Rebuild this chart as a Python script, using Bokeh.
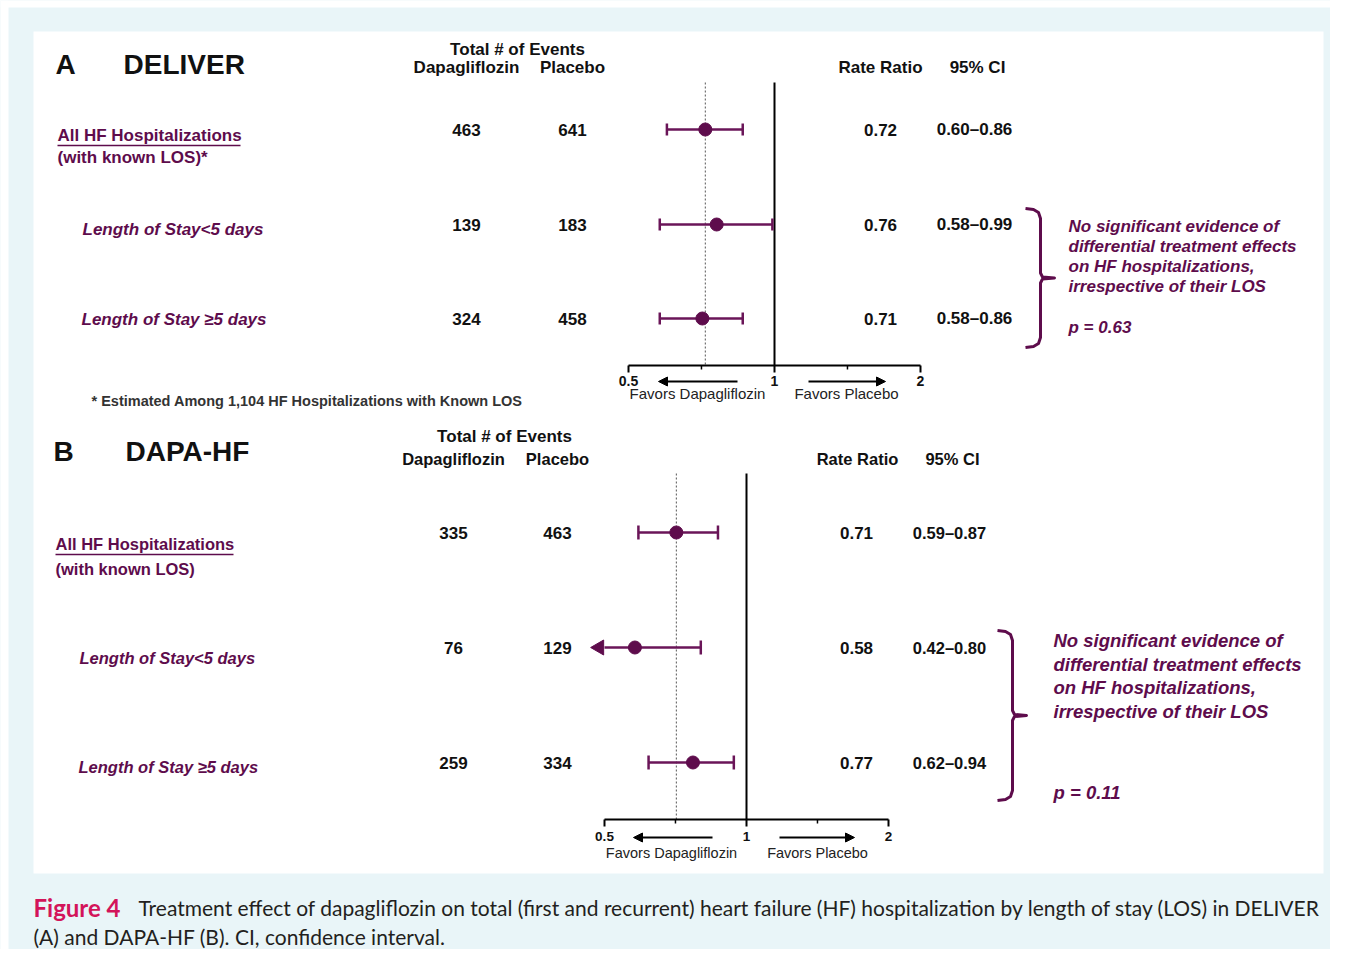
import math
from bokeh.plotting import figure
from bokeh.models import Range1d, LogScale, Arrow, NormalHead
from bokeh.core.properties import value
from bokeh.embed import file_html
from bokeh.resources import INLINE

# ------------------------------------------------------------------ data
panel_letters = ["A", "B"]
trial_names = ["DELIVER", "DAPA-HF"]
subgroups = ["All HF Hospitalizations", "Length of Stay<5 days", "Length of Stay \u22655 days"]
subgroup_notes = ["(with known LOS)*", "(with known LOS)"]

a_dapa = [463, 139, 324]
a_placebo = [641, 183, 458]
a_rr = [0.72, 0.76, 0.71]
a_lo = [0.60, 0.58, 0.58]
a_hi = [0.86, 0.99, 0.86]
a_p = "0.63"

b_dapa = [335, 76, 259]
b_placebo = [463, 129, 334]
b_rr = [0.71, 0.58, 0.77]
b_lo = [0.59, 0.42, 0.62]
b_hi = [0.87, 0.80, 0.94]
b_p = "0.11"

axis_ticks = [0.5, 1, 2]
axis_tick_labels = ["0.5", "1", "2"]
minor_ticks = [0.707, 1.414]

footnote = "* Estimated Among 1,104 HF Hospitalizations with Known LOS"
note_lines = ["No significant evidence of", "differential treatment effects",
              "on HF hospitalizations,", "irrespective of their LOS"]
caption_1 = ("Treatment effect of dapagliflozin on total (first and recurrent) heart failure (HF) "
             "hospitalization by length of stay (LOS) in DELIVER")
caption_2 = "(A) and DAPA-HF (B). CI, confidence interval."

# ------------------------------------------------------------------ styles
PURPLE = "#5e0c4c"
BAR = "#6a1558"
BLACK = "#111111"
BG = "#e9f5f8"
ARIAL = value("Liberation Sans")
CAPF = value("Lato")

W, H = 1330, 949
X0, Y0 = 0, 0  # data coordinates equal screenshot pixels

p = figure(width=W, height=H, x_range=Range1d(X0, X0 + W), y_range=Range1d(Y0 + H, Y0),
           x_axis_type=None, y_axis_type=None, output_backend="svg", toolbar_location=None,
           min_border=0, outline_line_color=None,
           background_fill_color=BG, border_fill_color=BG)


def log_range(px_half, px_two):
    per = (px_two - px_half) / 2.0
    lo = 0.5 * 2 ** ((X0 - px_half) / per)
    hi = 0.5 * 2 ** ((X0 + W - px_half) / per)
    return Range1d(lo, hi)


p.extra_x_ranges = {"fa": log_range(628, 920), "fb": log_range(604, 888)}
p.extra_x_scales = {"fa": LogScale(), "fb": LogScale()}

# page margin strips and white panel
p.quad(left=[0, 0], right=[8, W], top=[0, 0], bottom=[H, 7], fill_color="white", line_color=None)
p.quad(left=[33], right=[1323], top=[31], bottom=[873], fill_color="white", line_color=None)


def txt(x, y, t, font, size, color=BLACK, style="bold", align="left"):
    p.text(x=x, y=y, text=t, text_font=font, text_font_size=size, text_color=color,
           text_font_style=style, text_align=align, text_baseline="middle")


def brace(x, y_top, y_bot, hook=15, notch=14, lw=3):
    ym = (y_top + y_bot) / 2
    xs = [x - hook, x - 7, x - 2, x, x, x + 2, x + notch, x + 2, x, x, x - 2, x - 7, x - hook]
    ys = [y_top, y_top + 1, y_top + 4, y_top + 10, ym - 5, ym - 1, ym, ym + 1, ym + 5,
          y_bot - 10, y_bot - 4, y_bot - 1, y_bot]
    p.line(xs, ys, line_color=PURPLE, line_width=lw, line_join="round")


def forest(rn, rr, lo, hi, ys, top_y, axis_y, cap, msize, tick_size, tick_dy,
           fav_size, fav_dy, fav_x, arrow_l, arrow_r, arrow_y):
    amin, amax = axis_ticks[0], axis_ticks[-1]
    # reference lines
    p.segment(x0=[1], x1=[1], y0=[top_y], y1=[axis_y], x_range_name=rn,
              line_color="black", line_width=2)
    p.segment(x0=[rr[0]], x1=[rr[0]], y0=[top_y], y1=[axis_y], x_range_name=rn,
              line_color="#555555", line_width=1, line_dash="2 2")
    # CI bars
    lo_c = [max(v, amin) for v in lo]
    p.segment(x0=lo_c, x1=hi, y0=ys, y1=ys, x_range_name=rn, line_color=BAR, line_width=2.5)
    cx = [v for v in lo if v >= amin] + list(hi)
    cy = [y for v, y in zip(lo, ys) if v >= amin] + list(ys)
    p.segment(x0=cx, x1=cx, y0=[y - cap for y in cy], y1=[y + cap for y in cy],
              x_range_name=rn, line_color=BAR, line_width=2.5)
    clipped_y = [y for v, y in zip(lo, ys) if v < amin]
    if clipped_y:
        p.scatter(x=[amin * 0.975] * len(clipped_y), y=clipped_y, marker="triangle",
                  angle=math.pi / 2, size=15, fill_color=PURPLE, line_color=PURPLE,
                  x_range_name=rn)
    p.scatter(x=rr, y=ys, marker="circle", size=msize, fill_color=PURPLE, line_color=PURPLE,
              x_range_name=rn)
    # x axis
    p.segment(x0=[amin], x1=[amax], y0=[axis_y], y1=[axis_y], x_range_name=rn,
              line_color="black", line_width=2)
    p.segment(x0=axis_ticks, x1=axis_ticks, y0=[axis_y] * 3, y1=[axis_y + 7] * 3,
              x_range_name=rn, line_color="black", line_width=2)
    p.segment(x0=minor_ticks, x1=minor_ticks, y0=[axis_y] * 2, y1=[axis_y + 4] * 2,
              x_range_name=rn, line_color="black", line_width=1.5)
    p.text(x=axis_ticks, y=[axis_y + tick_dy] * 3, text=axis_tick_labels, x_range_name=rn,
           text_font=ARIAL, text_font_size=tick_size, text_font_style="bold",
           text_align="center", text_baseline="middle", text_color=BLACK)
    txt(fav_x, [axis_y + fav_dy] * 2, ["Favors Dapagliflozin", "Favors Placebo"], ARIAL,
        fav_size, color="#222222", style="normal", align="center")
    for xs_, xe_ in (arrow_l, arrow_r):
        p.add_layout(Arrow(end=NormalHead(size=9, fill_color="black", line_color="black"),
                           x_start=xs_, y_start=arrow_y, x_end=xe_, y_end=arrow_y,
                           line_color="black", line_width=2))


# ------------------------------------------------------------------ panel A
txt([55], [64], [panel_letters[0]], ARIAL, "28px")
txt([123], [64], [trial_names[0]], ARIAL, "28px")
txt([517], [49], ["Total # of Events"], ARIAL, "17px", align="center")
txt([466, 572], [67, 67], ["Dapagliflozin", "Placebo"], ARIAL, "17px", align="center")
txt([880, 977], [67, 67], ["Rate Ratio", "95% CI"], ARIAL, "17px", align="center")

a_rows = [129, 224, 318]
txt([57], [135], [subgroups[0]], ARIAL, "17px", color=PURPLE)
p.segment(x0=[57], x1=[240], y0=[145], y1=[145], line_color=PURPLE, line_width=1.5)
txt([57], [157], [subgroup_notes[0]], ARIAL, "17px", color=PURPLE)
txt([82, 81], [229, 319], subgroups[1:], ARIAL, "17px", color=PURPLE, style="bold italic")
txt([466] * 3, a_rows, [str(v) for v in a_dapa], ARIAL, "17px", align="center")
txt([572] * 3, a_rows, [str(v) for v in a_placebo], ARIAL, "17px", align="center")
txt([880] * 3, a_rows, [f"{v:.2f}" for v in a_rr], ARIAL, "17px", align="center")
txt([974] * 3, a_rows, [f"{l:.2f}\u2013{h:.2f}" for l, h in zip(a_lo, a_hi)], ARIAL, "17px",
    align="center")

forest("fa", a_rr, a_lo, a_hi, a_rows, 82, 365, 6, 13, "14px", 15,
       "15px", 28, [697, 846], (737, 658), (808, 885), 381)
txt([91], [400], [footnote], ARIAL, "14.5px", color="#333333")

brace(1040, 208, 347)
txt([1068] * 4, [226, 246, 266, 286], note_lines, ARIAL, "17px", color=PURPLE,
    style="bold italic")
txt([1068], [327], ["p = " + a_p], ARIAL, "17px", color=PURPLE, style="bold italic")

# ------------------------------------------------------------------ panel B
txt([53], [451], [panel_letters[1]], ARIAL, "28px")
txt([125], [451], [trial_names[1]], ARIAL, "28px")
txt([504], [436], ["Total # of Events"], ARIAL, "17px", align="center")
txt([453, 557], [458, 458], ["Dapagliflozin", "Placebo"], ARIAL, "16.5px", align="center")
txt([857, 952], [458, 458], ["Rate Ratio", "95% CI"], ARIAL, "16.5px", align="center")

b_rows = [532, 647, 762]
txt([55], [543], [subgroups[0]], ARIAL, "16.5px", color=PURPLE)
p.segment(x0=[55], x1=[233], y0=[554], y1=[554], line_color=PURPLE, line_width=1.5)
txt([55], [568], [subgroup_notes[1]], ARIAL, "16.5px", color=PURPLE)
txt([79, 78], [657, 766], subgroups[1:], ARIAL, "16.5px", color=PURPLE, style="bold italic")
txt([453] * 3, b_rows, [str(v) for v in b_dapa], ARIAL, "17px", align="center")
txt([557] * 3, b_rows, [str(v) for v in b_placebo], ARIAL, "17px", align="center")
txt([856] * 3, b_rows, [f"{v:.2f}" for v in b_rr], ARIAL, "17px", align="center")
txt([949] * 3, b_rows, [f"{l:.2f}\u2013{h:.2f}" for l, h in zip(b_lo, b_hi)], ARIAL, "16.5px",
    align="center")

forest("fb", b_rr, b_lo, b_hi, b_rows, 473, 819, 7, 13, "13.5px", 17,
       "14.5px", 33, [671, 817], (712, 633), (779, 854), 837)

brace(1012, 630, 800)
txt([1053] * 4, [640, 664, 687, 711], note_lines, ARIAL, "18.5px", color=PURPLE,
    style="bold italic")
txt([1053], [792], ["p = " + b_p], ARIAL, "18.5px", color=PURPLE, style="bold italic")

# ------------------------------------------------------------------ caption
txt([33], [907], ["Figure 4"], CAPF, "24px", color="#d3145a")
txt([138], [907], [caption_1], CAPF, "21px", color="#231f20", style="normal")
txt([33], [936], [caption_2], CAPF, "21px", color="#231f20", style="normal")

open("out.html", "w").write(file_html(p, INLINE))
